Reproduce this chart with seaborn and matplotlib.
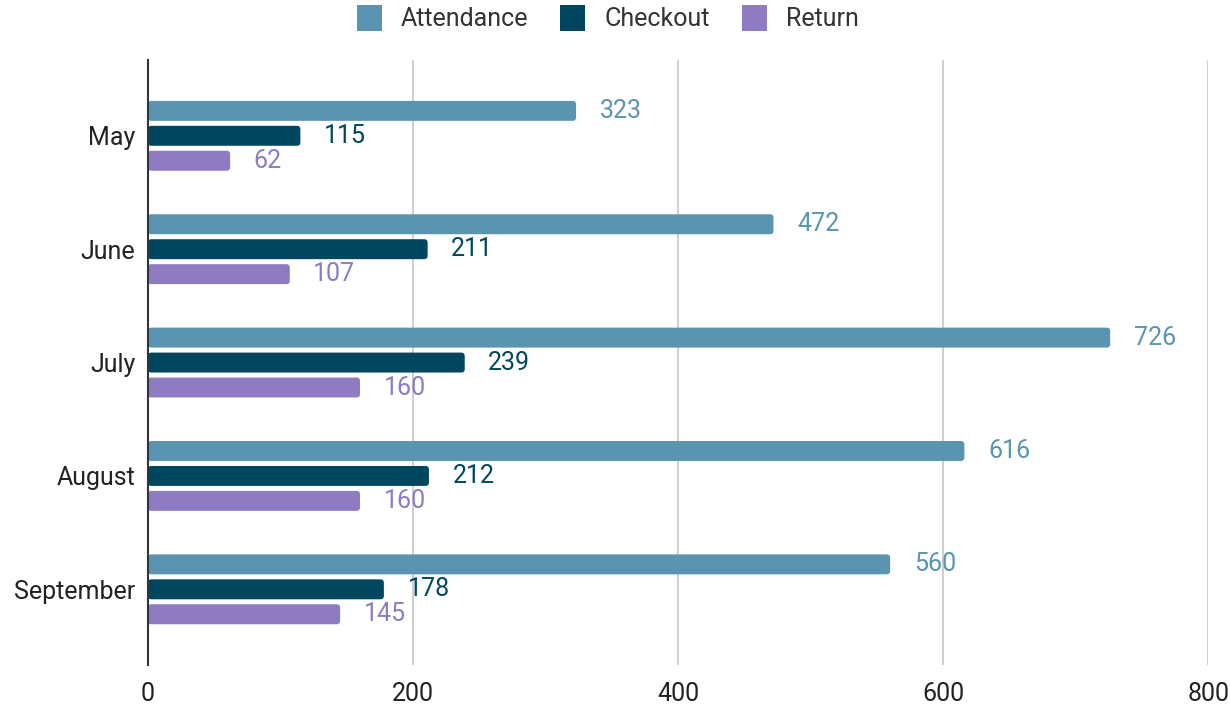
import pandas as pd
import matplotlib
matplotlib.use("Agg")
import matplotlib.pyplot as plt
from matplotlib.patches import FancyBboxPatch, Patch
import seaborn as sns

months = ["May", "June", "July", "August", "September"]
attendance = [323, 472, 726, 616, 560]
checkout = [115, 211, 239, 212, 178]
returns = [62, 107, 160, 160, 145]
series = ["Attendance", "Checkout", "Return"]
colors = ["#5A94B0", "#00465F", "#8E7CC3"]

df = pd.DataFrame({
    "month": months * 3,
    "series": ["Attendance"] * 5 + ["Checkout"] * 5 + ["Return"] * 5,
    "value": attendance + checkout + returns,
})

sns.set_theme(style="white")
plt.rcParams["font.family"] = ["Roboto", "DejaVu Sans"]

fig = plt.figure(figsize=(12.3, 7.04), dpi=100)
ax = fig.add_axes([0.1203, 0.055, 0.862, 0.86])

sns.barplot(data=df, y="month", x="value", hue="series", order=months,
            hue_order=series, palette=colors, width=0.66, gap=0.2,
            orient="h", ax=ax, legend=False, saturation=1, errorbar=None)

ax.set_xlim(0, 800)
ax.set_ylim(4.67, -0.67)

# value labels in the bar colour
for cont, col in zip(ax.containers, colors):
    ax.bar_label(cont, padding=17, color=col, fontsize=18)

# round the bar corners a little (x: ~0.755 units/px, y: ~1/113 units/px)
for p in list(ax.patches):
    x, y = p.get_x(), p.get_y()
    w, h = p.get_width(), p.get_height()
    fb = FancyBboxPatch((x, y), w, h, boxstyle="round,pad=0,rounding_size=2.6",
                        mutation_aspect=0.0117, facecolor=p.get_facecolor(),
                        edgecolor="none", zorder=p.get_zorder())
    p.set_visible(False)
    ax.add_patch(fb)

ax.set_xticks([0, 200, 400, 600, 800])
ax.xaxis.grid(True, color="#cccccc", linewidth=1.3)
ax.set_axisbelow(True)
ax.set_xlabel("")
ax.set_ylabel("")
for s in ["top", "right", "bottom"]:
    ax.spines[s].set_visible(False)
ax.spines["left"].set_color("#333333")
ax.spines["left"].set_linewidth(1.5)
ax.spines["left"].set_zorder(5)
ax.tick_params(axis="both", labelsize=18, colors="#222222", length=0)
ax.tick_params(axis="x", pad=12)
ax.tick_params(axis="y", pad=9)

handles = [Patch(facecolor=c, edgecolor="none", label=s) for s, c in zip(series, colors)]
fig.legend(handles=handles, loc="center", bbox_to_anchor=(0.494, 0.974), ncol=3,
           frameon=False, fontsize=18, handlelength=1.0, handleheight=1.2,
           columnspacing=1.3, handletextpad=0.75, labelcolor="#333333")

fig.savefig("out.png", dpi=100)
